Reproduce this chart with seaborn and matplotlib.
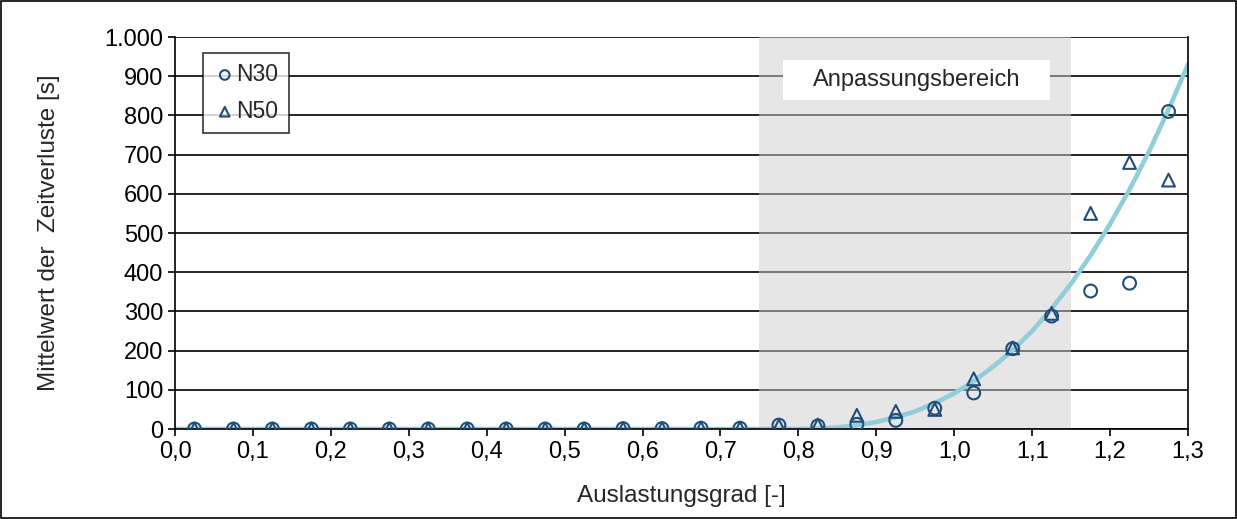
import numpy as np
import pandas as pd
import matplotlib
matplotlib.use("Agg")
import matplotlib.pyplot as plt
import seaborn as sns
from matplotlib.ticker import FuncFormatter, MultipleLocator

# --- data ---
auslastung = [0.025, 0.075, 0.125, 0.175, 0.225, 0.275, 0.325, 0.375, 0.425, 0.475,
              0.525, 0.575, 0.625, 0.675, 0.725, 0.775, 0.825, 0.875, 0.925, 0.975,
              1.025, 1.075, 1.125, 1.175, 1.225, 1.275]
n30 = [0, 0, 0, 0, 0, 0, 0, 0, 0, 0,
       0, 1, 1, 2, 2, 10, 8, 12, 22, 53,
       92, 205, 288, 352, 372, 810]
n50 = [0, 0, 0, 0, 0, 0, 0, 0, 0, 0,
       0, 1, 1, 2, 2, 8, 10, 35, 45, 50,
       128, 207, 295, 550, 680, 635]
fit_x = [0.0, 0.75, 0.8, 0.825, 0.85, 0.875, 0.9, 0.925, 0.95, 0.975, 1.0,
         1.025, 1.05, 1.075, 1.1, 1.125, 1.15, 1.175, 1.2, 1.225, 1.25, 1.275, 1.3]
fit_y = [0, 0, 0.1, 1.3, 4, 9.5, 18, 30, 45, 66, 91,
         122, 159, 201, 250, 307, 371, 443, 523, 611, 708, 815, 930]
bereich = (0.75, 1.15)
bereich_label = "Anpassungsbereich"
xlabel = "Auslastungsgrad [-]"
ylabel = "Mittelwert der  Zeitverluste [s]"

sns.set_style("white")
plt.rcParams['font.family'] = ['Liberation Sans', 'DejaVu Sans']

fig = plt.figure(figsize=(12.37, 5.19), dpi=100)
ax = fig.add_axes([0.1415, 0.1734, 0.8189, 0.7553])

# outer border of figure
fig.patches.append(plt.Rectangle((0.0008, 0.001), 0.998, 0.997, transform=fig.transFigure,
                                 fill=False, edgecolor='black', linewidth=1.2))

ax.set_xlim(0, 1.3)
ax.set_ylim(0, 1000)
ax.yaxis.set_major_locator(MultipleLocator(100))
ax.xaxis.set_major_locator(MultipleLocator(0.1))
ax.grid(axis='y', color='black', linewidth=1.2, zorder=0)
ax.set_axisbelow(True)

ax.axvspan(bereich[0], bereich[1], color='#cfcfcf', alpha=0.5, linewidth=0, zorder=1)

df_fit = pd.DataFrame({'x': fit_x, 'y': fit_y})
sns.lineplot(data=df_fit, x='x', y='y', ax=ax, color='#92cddc', linewidth=3.3, zorder=2)

mcol = '#1f4e79'
df = pd.DataFrame({'x': auslastung, 'N30': n30, 'N50': n50})
sns.scatterplot(data=df, x='x', y='N50', ax=ax, marker='^', s=85, facecolors='none',
                edgecolor=mcol, linewidth=1.5, label='N50', zorder=3)
sns.scatterplot(data=df, x='x', y='N30', ax=ax, marker='o', s=85, facecolors='none',
                edgecolor=mcol, linewidth=1.5, label='N30', zorder=3)

# label box for the adjustment range
ax.add_patch(plt.Rectangle((0.7805, 839), 0.3427, 102, facecolor='white',
                           edgecolor='none', zorder=4))
ax.text(0.952, 890, bereich_label, ha='center', va='center', fontsize=17, zorder=5)

handles, labels = ax.get_legend_handles_labels()
order = [labels.index('N30'), labels.index('N50')]
leg = ax.legend([handles[i] for i in order], [labels[i] for i in order],
                loc='upper left', bbox_to_anchor=(0.0276, 0.96), frameon=True, fancybox=False,
                edgecolor='black', fontsize=16.5, handletextpad=0.0, handlelength=1.0,
                borderpad=0.45, labelspacing=0.6, markerscale=0.75, borderaxespad=0)
leg.get_frame().set_linewidth(1.2)
leg.set_zorder(6)

ax.xaxis.set_major_formatter(FuncFormatter(lambda v, p: f"{v:.1f}".replace('.', ',')))
ax.yaxis.set_major_formatter(FuncFormatter(lambda v, p: f"{int(round(v)):,}".replace(',', '.')))

for s in ['left', 'bottom', 'right', 'top']:
    ax.spines[s].set_visible(True)
    ax.spines[s].set_color('black')
    ax.spines[s].set_linewidth(1.2)
ax.spines['top'].set_visible(False)
ax.tick_params(axis='both', direction='out', length=5, width=1.2, colors='black',
               labelsize=17, bottom=True, left=True)
ax.set_xlabel(xlabel, fontsize=17.5, labelpad=16)
ax.set_ylabel(ylabel, fontsize=17.5, labelpad=32)

fig.savefig('out.png', dpi=100)
